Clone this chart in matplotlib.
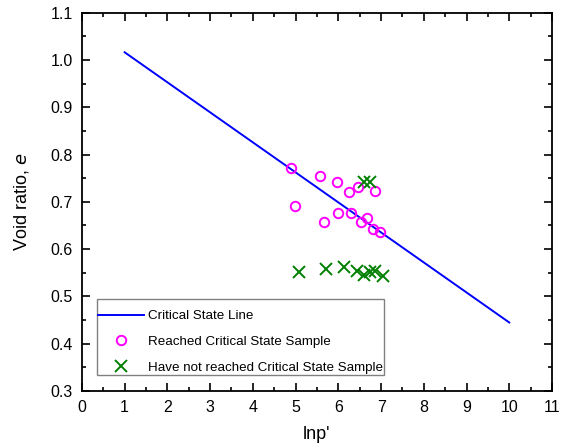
import matplotlib
matplotlib.use("Agg")
import matplotlib.pyplot as plt
from matplotlib.patches import Rectangle
from matplotlib.ticker import MultipleLocator

plt.rcParams['font.family'] = ['Liberation Sans', 'DejaVu Sans']

# critical state line
csl_x = [1.0, 10.0]
csl_y = [1.016, 0.445]

# samples that reached critical state
reached_x = [4.89, 5.57, 5.98, 6.25, 6.45, 6.86, 4.99, 5.66, 6.00, 6.30, 6.53, 6.66, 6.81, 6.97]
reached_y = [0.771, 0.755, 0.742, 0.720, 0.731, 0.723, 0.692, 0.657, 0.676, 0.676, 0.657, 0.666, 0.642, 0.636]

# samples that have not reached critical state
not_x = [6.61, 6.74, 5.09, 5.71, 6.14, 6.43, 6.61, 6.74, 6.86, 7.04]
not_y = [0.741, 0.742, 0.551, 0.559, 0.562, 0.554, 0.545, 0.551, 0.554, 0.544]

fig = plt.figure(figsize=(5.65, 4.48), dpi=100)
ax = fig.add_axes([0.145, 0.127, 0.832, 0.845])

ax.plot(csl_x, csl_y, color='#0000ff', lw=1.4, label='Critical State Line')
ax.plot(reached_x, reached_y, 'o', ls='none', mfc='none', mec='#ff00ff', ms=6.8, mew=1.4,
        label='Reached Critical State Sample')
ax.plot(not_x, not_y, 'x', ls='none', color='#008000', ms=8, mew=1.4,
        label='Have not reached Critical State Sample')

ax.set_xlim(0, 11)
ax.set_ylim(0.3, 1.1)
ax.xaxis.set_major_locator(MultipleLocator(1))
ax.xaxis.set_minor_locator(MultipleLocator(0.5))
ax.yaxis.set_major_locator(MultipleLocator(0.1))
ax.yaxis.set_minor_locator(MultipleLocator(0.05))
ax.yaxis.set_major_formatter(plt.FormatStrFormatter('%.1f'))
ax.tick_params(which='both', direction='in', top=True, right=True, labelsize=11.5, width=1.2, pad=6.5)
ax.tick_params(which='major', length=6)
ax.tick_params(which='minor', length=3)
for s in ax.spines.values():
    s.set_linewidth(1.3)

ax.set_xlabel("lnp'", fontsize=13, labelpad=8)
ax.set_ylabel("Void ratio, $\\it{e}$", fontsize=13, labelpad=14)

# legend box drawn separately: tight sides, more room top and bottom
ax.add_patch(Rectangle((0.032, 0.042), 0.611, 0.201, transform=ax.transAxes,
                       facecolor='white', edgecolor='#808080', lw=1.0, zorder=4))
leg = ax.legend(loc='center left', bbox_to_anchor=(0.032, 0.13), borderaxespad=0, fontsize=9.6,
                frameon=False, handlelength=3.4, handletextpad=0.3,
                borderpad=0.1, labelspacing=1.0)
leg.set_zorder(5)

fig.savefig("out.png", dpi=100)
